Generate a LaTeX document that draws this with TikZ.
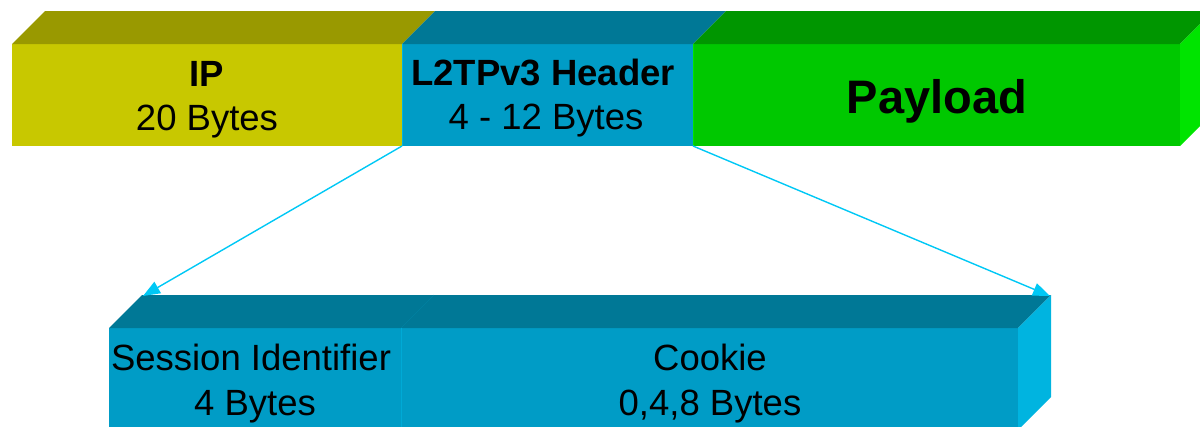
\documentclass[tikz,border=0pt]{standalone}
\usepackage{fontspec}
\setmainfont{Liberation Sans}
\usetikzlibrary{arrows.meta,calc}

% block colours: front, top and side faces
\definecolor{ipfront}{HTML}{C8C800}
\definecolor{iptop}{HTML}{999900}
\definecolor{hdfront}{HTML}{009CC6}
\definecolor{hdtop}{HTML}{007896}
\definecolor{hdside}{HTML}{00B4E0}
\definecolor{hdedge}{HTML}{00AAD6}
\definecolor{plfront}{HTML}{00C800}
\definecolor{pltop}{HTML}{009600}
\definecolor{plside}{HTML}{00E400}
\definecolor{link}{HTML}{00C8F5}

\begin{document}
\begin{tikzpicture}[x=1pt,y=-1pt,
  front/.style={draw=none, inner sep=0pt, outer sep=0pt, anchor=north west,
                minimum height=102pt},
  lbl/.style={inner sep=0pt, anchor=base, font=\fontsize{36.5}{44}\selectfont},
  big/.style={inner sep=0pt, anchor=base, font=\fontsize{47}{56}\selectfont\bfseries},
  zoomline/.style={draw=link, line width=1.4pt, -{Triangle[length=17pt,width=13pt]}}]

\useasboundingbox (0,0) rectangle (1200,426);
\clip (0,0) rectangle (1200,426);

% ---- packet: IP | L2TPv3 header | payload ----
\node[front, fill=ipfront, minimum width=390pt] (ip) at (12,44) {};
\node[front, fill=hdfront, minimum width=291pt] (hdr) at (402,44) {};
\node[front, fill=plfront, minimum width=487pt] (pay) at (693,44) {};

\fill[iptop] (ip.north west) -- ++(33,-33) -- ($(ip.north east)+(33,-33)$) -- (ip.north east) -- cycle;
\fill[hdtop] (hdr.north west) -- ++(33,-33) -- ($(hdr.north east)+(33,-33)$) -- (hdr.north east) -- cycle;
\fill[pltop] (pay.north west) -- ++(33,-33) -- ($(pay.north east)+(33,-33)$) -- (pay.north east) -- cycle;
\fill[plside] (pay.north east) -- ++(33,-33) -- ++(0,102) -- (pay.south east) -- cycle;
\draw[hdside, line width=1pt] (hdr.north west) -- (hdr.south west);
\draw[plside, line width=1pt] (pay.north west) -- (pay.south west);

\node[lbl, font=\fontsize{36.5}{44}\selectfont\bfseries] (iptitle) at (207,86) {IP};
\node[lbl] (ipsize) at (207,130) {20 Bytes};
\node[lbl, font=\fontsize{36.5}{44}\selectfont\bfseries] (hdtitle) at (543,85) {L2TPv3 Header};
\node[lbl] (hdsize) at (546,129) {4 - 12 Bytes};
\node[big] (paytitle) at (937,113) {Payload};

% ---- expanded header: session identifier | cookie ----
\node[front, fill=hdfront, minimum width=292pt] (sess) at (109,328) {};
\node[front, fill=hdfront, minimum width=617pt] (cook) at (401,328) {};

\fill[hdtop] (sess.north west) -- ++(33,-33) -- ($(cook.north east)+(33,-33)$) -- (cook.north east) -- cycle;
\draw[hdtop!85!hdside, line width=0.6pt] (cook.north west) -- ++(33,-33);
\fill[hdside] (cook.north east) -- ++(33,-33) -- ++(0,102) -- (cook.south east) -- cycle;
\draw[hdedge, line width=1pt] (cook.north west) -- (cook.south west);

\node[lbl] (sesstitle) at (251,370) {Session Identifier};
\node[lbl] (sesssize) at (255,415) {4 Bytes};
\node[lbl] (cooktitle) at (710,370) {Cookie};
\node[lbl] (cooksize) at (710,415) {0,4,8 Bytes};

% ---- zoom lines from the header to the expanded view ----
\coordinate (backleft) at ($(sess.north west)+(34,-32)$);
\coordinate (backright) at ($(cook.north east)+(32,-32)$);
\draw[zoomline] (hdr.south west) -- (backleft);
\draw[zoomline] (hdr.south east) -- (backright);
\end{tikzpicture}
\end{document}
